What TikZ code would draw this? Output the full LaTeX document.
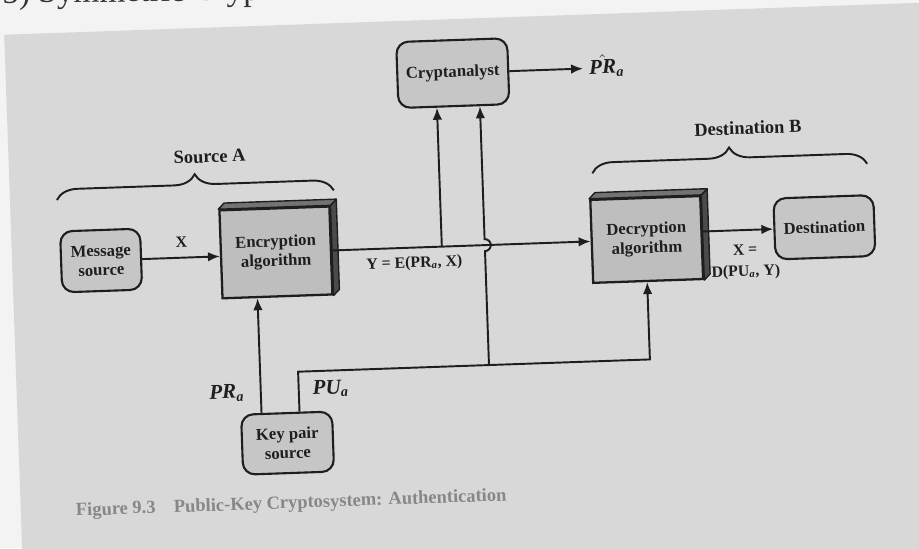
\documentclass[tikz,border=0pt]{standalone}
\usepackage{fontspec}
\setmainfont{Liberation Serif}
\usetikzlibrary{arrows.meta,decorations.pathreplacing}
\definecolor{pagecol}{RGB}{243,243,243}
\definecolor{panelcol}{RGB}{216,216,216}
\definecolor{boxcol}{RGB}{198,198,198}
\definecolor{facecol}{RGB}{190,190,190}
\definecolor{sidecol}{RGB}{75,75,75}
\definecolor{inkcol}{RGB}{30,30,30}
\definecolor{capcol}{RGB}{135,135,135}
\begin{document}
\begin{tikzpicture}[x=0.02cm,y=-0.02cm,
  rbox/.style={draw=inkcol, line width=1.2pt, rounded corners=0.24cm, fill=boxcol,
    align=center, text=inkcol, inner sep=2pt, font=\bfseries\fontsize{9.5}{11}\selectfont},
  algbox/.style={draw=inkcol, line width=1.3pt, fill=facecol, align=center, text=inkcol,
    inner sep=2pt, font=\bfseries\fontsize{9.5}{11}\selectfont},
  wire/.style={draw=inkcol, line width=1.1pt},
  arr/.style={wire, -{Latex[length=2.4mm,width=1.9mm]}},
  lbl/.style={text=inkcol, font=\bfseries\fontsize{9}{12}\selectfont},
  keylbl/.style={text=inkcol, font=\bfseries\itshape\fontsize{12}{13}\selectfont},
  hdr/.style={text=inkcol, font=\bfseries\fontsize{10.5}{12}\selectfont},
  brc/.style={draw=inkcol, line width=1.1pt, decorate, decoration={brace, amplitude=0.42cm}},
  slab/.style={fill=sidecol, draw=inkcol, line width=0.8pt, line join=round}]
\fill[pagecol] (0,0) rectangle (919,548);
\useasboundingbox (0,0) rectangle (919,548);
\clip (0,0) rectangle (919,548);
\node[anchor=base west, rotate=0.8, inner sep=0, text=black!80,
  font=\fontsize{19}{20}\selectfont] (head) at (2,3.5) {5) Symmetric Cryp};
\begin{scope}[rotate around={2:(460,280)}, transform shape]
\fill[panelcol] (13,19) rectangle (980,660);
% boxes
\node[rbox, minimum width=2.22cm, minimum height=1.32cm] (crypt) at (460,73) {Cryptanalyst};
\node[rbox, minimum width=1.6cm, minimum height=1.22cm] (msg) at (102,248) {Message\\source};
\node[algbox, minimum width=2.2cm, minimum height=1.76cm] (enc) at (277,246) {Encryption\\algorithm};
\node[algbox, minimum width=2.2cm, minimum height=1.66cm] (dec) at (648,246) {Decryption\\algorithm};
\node[rbox, minimum width=2.0cm, minimum height=1.22cm] (dest) at (826,240) {Destination};
\node[rbox, minimum width=1.82cm, minimum height=1.2cm] (key) at (282,437) {Key pair\\source};
% 3D slabs
\path[slab] (enc.north east) -- ++(6,-6) -- ([shift={(6,-6)}]enc.south east) -- (enc.south east) -- cycle;
\path[slab, fill=black!55] (enc.north west) -- ++(6,-6) -- ([shift={(6,-6)}]enc.north east) -- (enc.north east) -- cycle;
\path[slab] (dec.north east) -- ++(6,-6) -- ([shift={(6,-6)}]dec.south east) -- (dec.south east) -- cycle;
\path[slab, fill=black!55] (dec.north west) -- ++(6,-6) -- ([shift={(6,-6)}]dec.north east) -- (dec.north east) -- cycle;
% labels
\node[hdr] (srcA) at (214,148) {Source A};
\node[hdr] (dstB) at (753,138) {Destination B};
\node[keylbl] (prhat) at (614,71) {$\hat{\textbf{\textit{PR}}}$\textsubscript{\textbf{\textit{a}}}};
\node[lbl] (xlab) at (183,232) {X};
\node[lbl] (ylab) at (415,262) {Y = E(PR\textsubscript{\textit{a}}, X)};
\node[lbl, align=center] (xdlab) at (746,272) {X =\\D(PU\textsubscript{\textit{a}}, Y)};
\node[keylbl] (prlab) at (223,385) {PR\textsubscript{a}};
\node[keylbl] (pulab) at (327,384) {PU\textsubscript{a}};
\node[anchor=west, text=capcol, font=\bfseries\fontsize{10.5}{12}\selectfont] (cap) at (62,498)
  {Figure 9.3\quad Public-Key Cryptosystem: Authentication};
% braces
\coordinate (bA1) at (60,186); \coordinate (bA2) at (337,186);
\coordinate (bB1) at (596,178); \coordinate (bB2) at (871,178);
\draw[brc] (bA1) -- (bA2);
\draw[brc] (bB1) -- (bB2);
% wires
\coordinate (tapY) at (443,246);
\coordinate (jPU) at (486,366);
\coordinate (hopB) at (486,252);
\coordinate (prx) at (257,0);
\coordinate (pux) at (295,366);
\coordinate (decx) at (647,366);
\draw[arr] (msg.east) -- (msg.east -| enc.west);
\draw[arr] (enc.east) -- (dec.west);
\draw[arr] (tapY) -- (tapY |- crypt.south);
\draw[arr] (jPU) -- (hopB) arc[start angle=-90, end angle=90, radius=0.12cm] -- (jPU |- crypt.south);
\draw[arr] (prx |- key.north) -- (prx |- enc.south);
\draw[arr] (pux |- key.north) -- (pux) -- (decx) -- (decx |- dec.south);
\draw[arr] (dec.east |- dest.west) -- (dest.west);
\draw[arr] (crypt.east) -- (crypt.east -| prhat.west);
\end{scope}
\end{tikzpicture}
\end{document}
